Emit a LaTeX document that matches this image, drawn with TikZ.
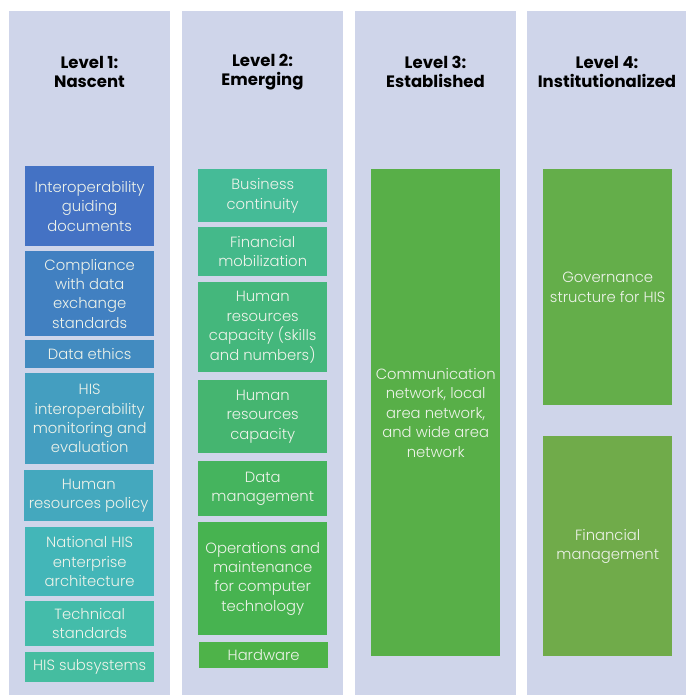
\documentclass[tikz,border=0pt]{standalone}
\usepackage{fontspec}
\IfFontExistsTF{Poppins Light}{\newfontfamily\boxfont{Poppins Light}}{\newfontfamily\boxfont{Poppins}}
\IfFontExistsTF{Poppins Bold}{\newfontfamily\titlefont{Poppins Bold}}{\newfontfamily\titlefont{Poppins}\def\titlefontB{\bfseries}}
\providecommand\titlefontB{}
\definecolor{panel}{HTML}{CFD5EA}
\definecolor{boxtext}{HTML}{EEF3EA}
\definecolor{cA}{HTML}{4472C4}
\definecolor{cB}{HTML}{4180C1}
\definecolor{cC}{HTML}{428BC0}
\definecolor{cD}{HTML}{449EC0}
\definecolor{cE}{HTML}{44A8BE}
\definecolor{cF}{HTML}{43B6B8}
\definecolor{cG}{HTML}{44BCAA}
\definecolor{cH}{HTML}{45BDA0}
\definecolor{dA}{HTML}{45BB97}
\definecolor{dB}{HTML}{44B98A}
\definecolor{dC}{HTML}{44B77C}
\definecolor{dD}{HTML}{45B570}
\definecolor{dE}{HTML}{45B45E}
\definecolor{dF}{HTML}{47B350}
\definecolor{dG}{HTML}{4EB349}
\definecolor{eA}{HTML}{58AF48}
\definecolor{fA}{HTML}{64AE4A}
\definecolor{fB}{HTML}{70AB4A}
\begin{document}
\begin{tikzpicture}[x=1pt,y=-1pt,
  panelbox/.style={fill=panel, draw=none, anchor=north west, inner sep=0pt, minimum width=161pt, minimum height=684pt},
  itembox/.style={draw=none, anchor=north west, inner sep=0pt, align=center, text=boxtext,
     font=\boxfont\fontsize{14.8}{19.4}\selectfont, minimum width=129pt},
  titlebox/.style={align=center, inner sep=0pt, font=\titlefont\titlefontB\fontsize{16.5}{19}\selectfont, text=black}]
\useasboundingbox (0,0) rectangle (690,695);
\fill[white] (0,0) rectangle (690,695);
% panels
\node[panelbox] (p1) at (9,11) {};
\node[panelbox] (p2) at (182,11) {};
\node[panelbox] (p3) at (355,11) {};
\node[panelbox, minimum width=159pt] (p4) at (527,11) {};
% titles
\node[titlebox] (t1) at (89.5,72) {Level 1:\\Nascent};
\node[titlebox] (t2) at (262.5,72) {Level 2:\\Emerging};
\node[titlebox] (t3) at (435.5,72) {Level 3:\\Established};
\node[titlebox] (t4) at (607,72) {Level 4:\\Institutionalized};
% column 1
\node[itembox, fill=cA, minimum height=80pt] (a1) at (25,166) {Interoperability\\guiding\\documents};
\node[itembox, fill=cB, minimum height=85pt] (a2) at (25,251) {Compliance\\with data\\exchange\\standards};
\node[itembox, fill=cC, minimum height=28pt] (a3) at (25,340) {Data ethics};
\node[itembox, fill=cD, minimum height=91pt] (a4) at (25,373) {HIS\\interoperability\\monitoring and\\evaluation};
\node[itembox, fill=cE, minimum height=51pt] (a5) at (24,470) {Human\\resources policy};
\node[itembox, fill=cF, minimum height=69pt] (a6) at (25,527) {National HIS\\enterprise\\architecture};
\node[itembox, fill=cG, minimum height=45pt] (a7) at (25,601) {Technical\\standards};
\node[itembox, fill=cH, minimum height=30pt] (a8) at (25,652) {HIS subsystems};
% column 2
\node[itembox, fill=dA, minimum height=53pt] (b1) at (198,169) {Business\\continuity};
\node[itembox, fill=dB, minimum height=49pt] (b2) at (198,227) {Financial\\mobilization};
\node[itembox, fill=dC, minimum height=90pt] (b3) at (198,282) {Human\\resources\\capacity (skills\\and numbers)};
\node[itembox, fill=dD, minimum height=73pt] (b4) at (198,380) {Human\\resources\\capacity};
\node[itembox, fill=dE, minimum height=55pt] (b5) at (198,461) {Data\\management};
\node[itembox, fill=dF, minimum height=113pt] (b6) at (198,522) {Operations and\\maintenance\\for computer\\technology};
\node[itembox, fill=dG, minimum height=26pt] (b7) at (199,642) {Hardware};
% column 3
\node[itembox, fill=eA, minimum height=487pt] (c1) at (371,169) {Communication\\network, local\\area network,\\and wide area\\network};
% column 4
\node[itembox, fill=fA, minimum height=236pt] (d1) at (543,169) {Governance\\structure for HIS};
\node[itembox, fill=fB, minimum height=220pt] (d2) at (543,436) {Financial\\management};
\end{tikzpicture}
\end{document}
